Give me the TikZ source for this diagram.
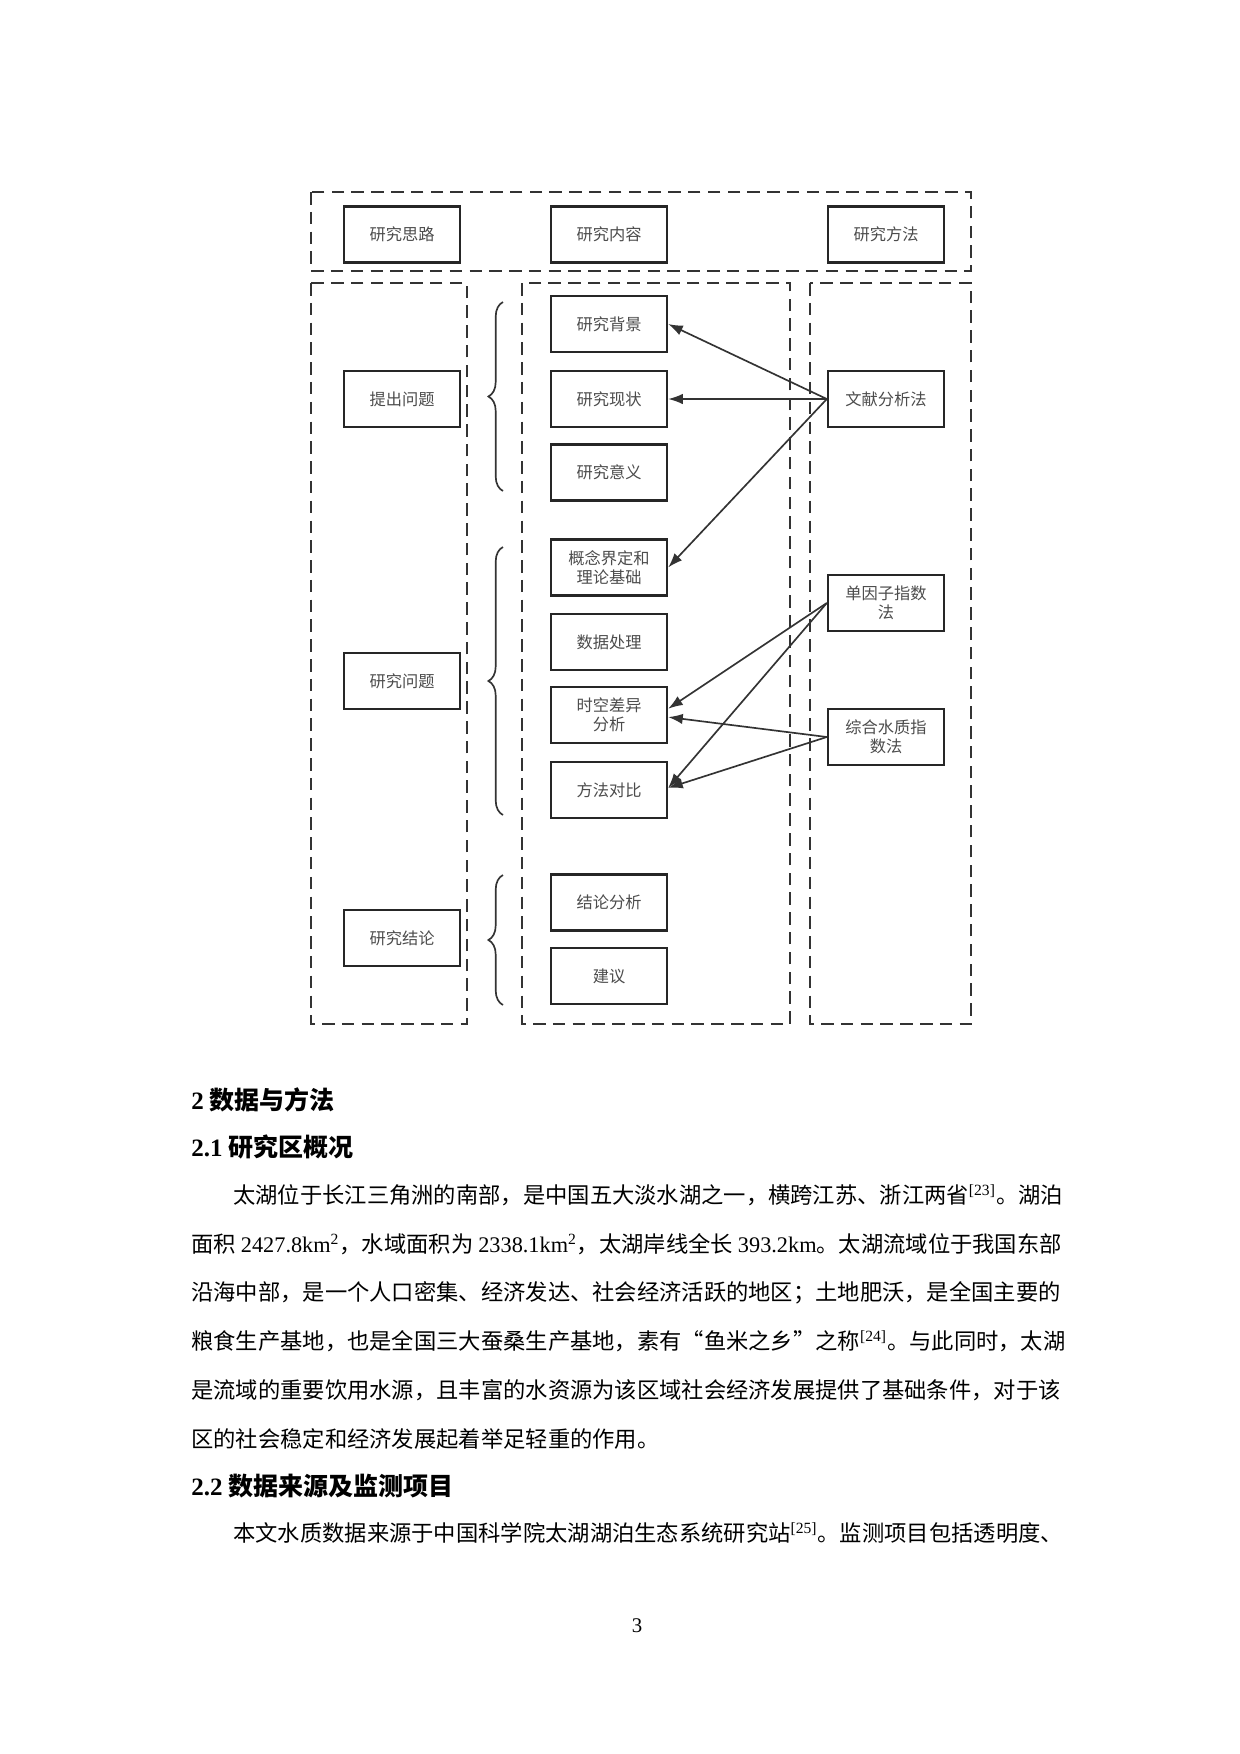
\documentclass[tikz,border=0pt]{standalone}
\usepackage{fontspec}
\setmainfont{Liberation Serif}
\newfontfamily\cjk{Noto Sans CJK SC}
\newcommand{\lt}[1]{{\rmfamily #1}}
\usetikzlibrary{decorations.pathreplacing,arrows.meta}
\begin{document}
\begin{tikzpicture}[x=0.48pt,y=-0.48pt,
  dbox/.style={draw=black!80,line width=1.3pt,dash pattern=on 6pt off 3.5pt},
  b/.style={draw=black!85,line width=1.1pt,minimum width=55.7pt,minimum height=26.9pt,inner sep=0pt,align=center,font=\cjk\fontsize{7.8}{9.2}\selectfont,text=black!70},
  ar/.style={draw=black!80,line width=0.8pt,-{Latex[length=7pt,width=5pt]}},
  br/.style={draw=black!80,line width=0.8pt,decorate,decoration={brace,amplitude=7pt,mirror}},
  bt/.style={anchor=west,font=\cjk\fontsize{10.7}{14}\selectfont},
  hd/.style={anchor=west,font=\cjk\bfseries\fontsize{12}{14}\selectfont}]
\useasboundingbox (0,0) rectangle (1240,1754);
\fill[white] (0,0) rectangle (1240,1754);
% dashed frames
\draw[dbox] (311,192) rectangle (971,271);
\draw[dbox] (311,283) rectangle (467,1024);
\draw[dbox] (522,283) rectangle (790,1024);
\draw[dbox] (810,283) rectangle (971,1024);
% header row
\node[b] (h1) at (402,234.5) {研究思路};
\node[b] (h2) at (609,234.5) {研究内容};
\node[b] (h3) at (886,234.5) {研究方法};
% left
\node[b] (l1) at (402,399) {提出问题};
\node[b] (l2) at (402,681) {研究问题};
\node[b] (l3) at (402,938) {研究结论};
% middle
\node[b] (m1) at (609,324) {研究背景};
\node[b] (m2) at (609,399) {研究现状};
\node[b] (m3) at (609,472.5) {研究意义};
\node[b] (m4) at (609,567.5) {概念界定和\\理论基础};
\node[b] (m5) at (609,642) {数据处理};
\node[b] (m6) at (609,715) {时空差异\\分析};
\node[b] (m7) at (609,790) {方法对比};
\node[b] (m8) at (609,902.5) {结论分析};
\node[b] (m9) at (609,976) {建议};
% right
\node[b] (r1) at (886,399) {文献分析法};
\node[b] (r2) at (886,603) {单因子指数\\法};
\node[b] (r3) at (886,737) {综合水质指\\数法};
% braces
\draw[br] (503,302) -- (503,491);
\draw[br] (503,547) -- (503,815);
\draw[br] (503,875) -- (503,1005);
% arrows
\coordinate (a1) at (r1.west);
\draw[ar] (a1) -- (m1.east);
\draw[ar] (a1) -- (m2.east);
\draw[ar] (a1) -- (m4.east);
\draw[ar] (r2.west) -- ([yshift=3pt]m6.east);
\draw[ar] (r2.west) -- ([yshift=1pt]m7.east);
\draw[ar] (r3.west) -- ([yshift=-1pt]m6.east);
\draw[ar] (r3.west) -- ([yshift=1pt]m7.east);
% text
\node[hd] (t1) at (184,1100) {\lt{2} 数据与方法};
\node[hd] (t2) at (184,1147) {\lt{2.1} 研究区概况};
\node[bt] (p1) at (226,1195) {太湖位于长江三角洲的南部，是中国五大淡水湖之一，横跨江苏、浙江两省\textsuperscript{\lt{[23]}}。湖泊};
\node[bt] (p2) at (184,1244) {面积 \lt{2427.8km\textsuperscript{2}}，水域面积为 \lt{2338.1km\textsuperscript{2}}，太湖岸线全长 \lt{393.2km}。太湖流域位于我国东部};
\node[bt] (p3) at (184,1293) {沿海中部，是一个人口密集、经济发达、社会经济活跃的地区；土地肥沃，是全国主要的};
\node[bt] (p4) at (184,1341) {粮食生产基地，也是全国三大蚕桑生产基地，素有“鱼米之乡”之称\textsuperscript{\lt{[24]}}。与此同时，太湖};
\node[bt] (p5) at (184,1390) {是流域的重要饮用水源，且丰富的水资源为该区域社会经济发展提供了基础条件，对于该};
\node[bt] (p6) at (184,1439) {区的社会稳定和经济发展起着举足轻重的作用。};
\node[hd] (t3) at (184,1486) {\lt{2.2} 数据来源及监测项目};
\node[bt] (p7) at (226,1533) {本文水质数据来源于中国科学院太湖湖泊生态系统研究站\textsuperscript{\lt{[25]}}。监测项目包括透明度、};
\node[font=\fontsize{10}{12}\selectfont] (pg) at (637,1626) {3};
\end{tikzpicture}
\end{document}
